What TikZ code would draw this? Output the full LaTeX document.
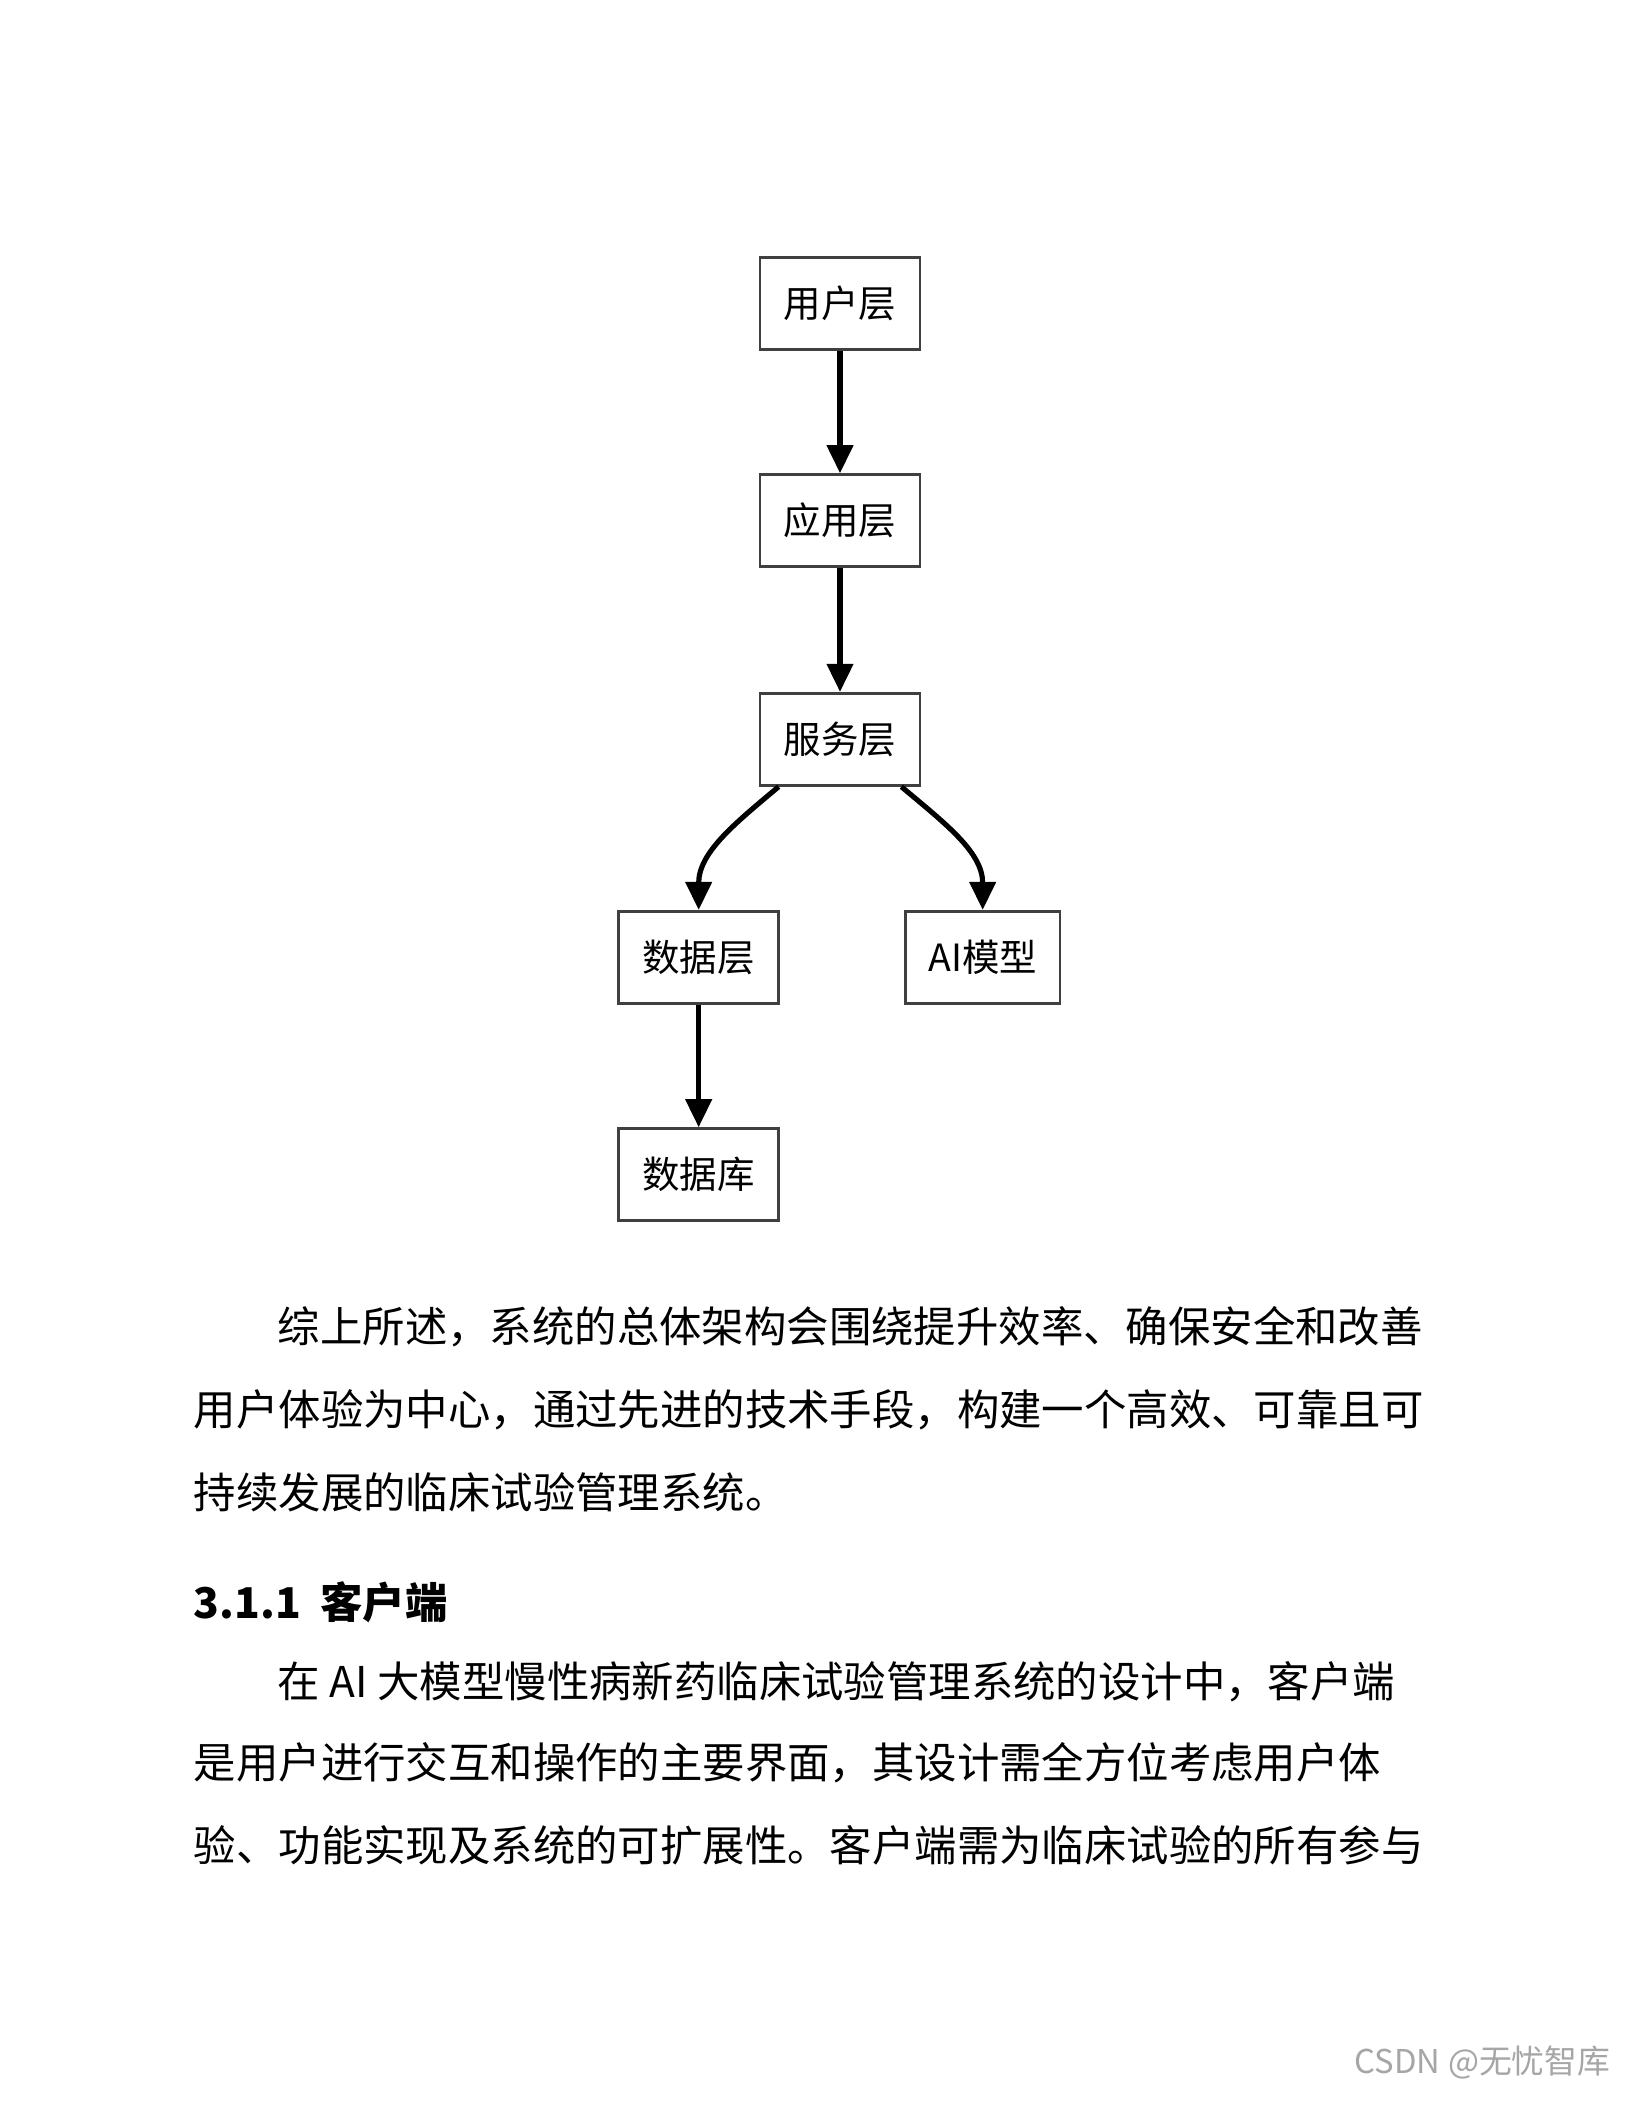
\documentclass[tikz,border=0pt]{standalone}
\usepackage{fontspec}
\setmainfont{Liberation Sans}
\newfontfamily\cjk{Noto Sans CJK SC}
\usetikzlibrary{arrows.meta}
\tikzset{
  box/.style={draw=black!75, line width=1.2pt, minimum width=2.4cm, minimum height=1.38cm, inner sep=0pt, font=\cjk\fontsize{16}{16}\selectfont},
  arr/.style={line width=2.2pt, -{Triangle[length=12pt,width=11pt]}},
  para/.style={anchor=west, inner sep=0pt, font=\cjk\fontsize{18.1}{18}\selectfont}
}
\begin{document}
\begin{tikzpicture}[x=0.02cm,y=-0.02cm]
\useasboundingbox[fill=white] (0,0) rectangle (1224,1584);
\node[box] (u) at (630,227.5) {用户层};
\node[box] (a) at (630,390.5) {应用层};
\node[box] (s) at (630,554.5) {服务层};
\node[box] (d) at (524,718) {数据层};
\node[box, minimum width=2.32cm] (m) at (737,718) {AI模型};
\node[box] (db) at (524,881) {数据库};
\draw[arr] (u) -- (a);
\draw[arr] (a) -- (s);
\path (s.south west) ++(15,0) coordinate (s1);
\path (s.south east) ++(-15,0) coordinate (s2);
\draw[arr] (s1) to[out=-140,in=90] (d.north);
\draw[arr] (s2) to[out=-40,in=90] (m.north);
\draw[arr] (d) -- (db);
\node[para] (p1) at (208,995) {综上所述，系统的总体架构会围绕提升效率、确保安全和改善};
\node[para] (p2) at (145,1057) {用户体验为中心，通过先进的技术手段，构建一个高效、可靠且可};
\node[para] (p3) at (145,1119) {持续发展的临床试验管理系统。};
\node[para, font=\cjk\bfseries\fontsize{18.1}{18}\selectfont] (h) at (145,1202) {3.1.1\ \ 客户端};
\node[para] (q1) at (208,1261) {在 AI 大模型慢性病新药临床试验管理系统的设计中，客户端};
\node[para] (q2) at (145,1322) {是用户进行交互和操作的主要界面，其设计需全方位考虑用户体};
\node[para] (q3) at (145,1384) {验、功能实现及系统的可扩展性。客户端需为临床试验的所有参与};
\node[anchor=east, inner sep=0pt, text=black!35, font=\cjk\fontsize{14}{14}\selectfont] (w) at (1208,1547) {CSDN @无忧智库};
\end{tikzpicture}
\end{document}
